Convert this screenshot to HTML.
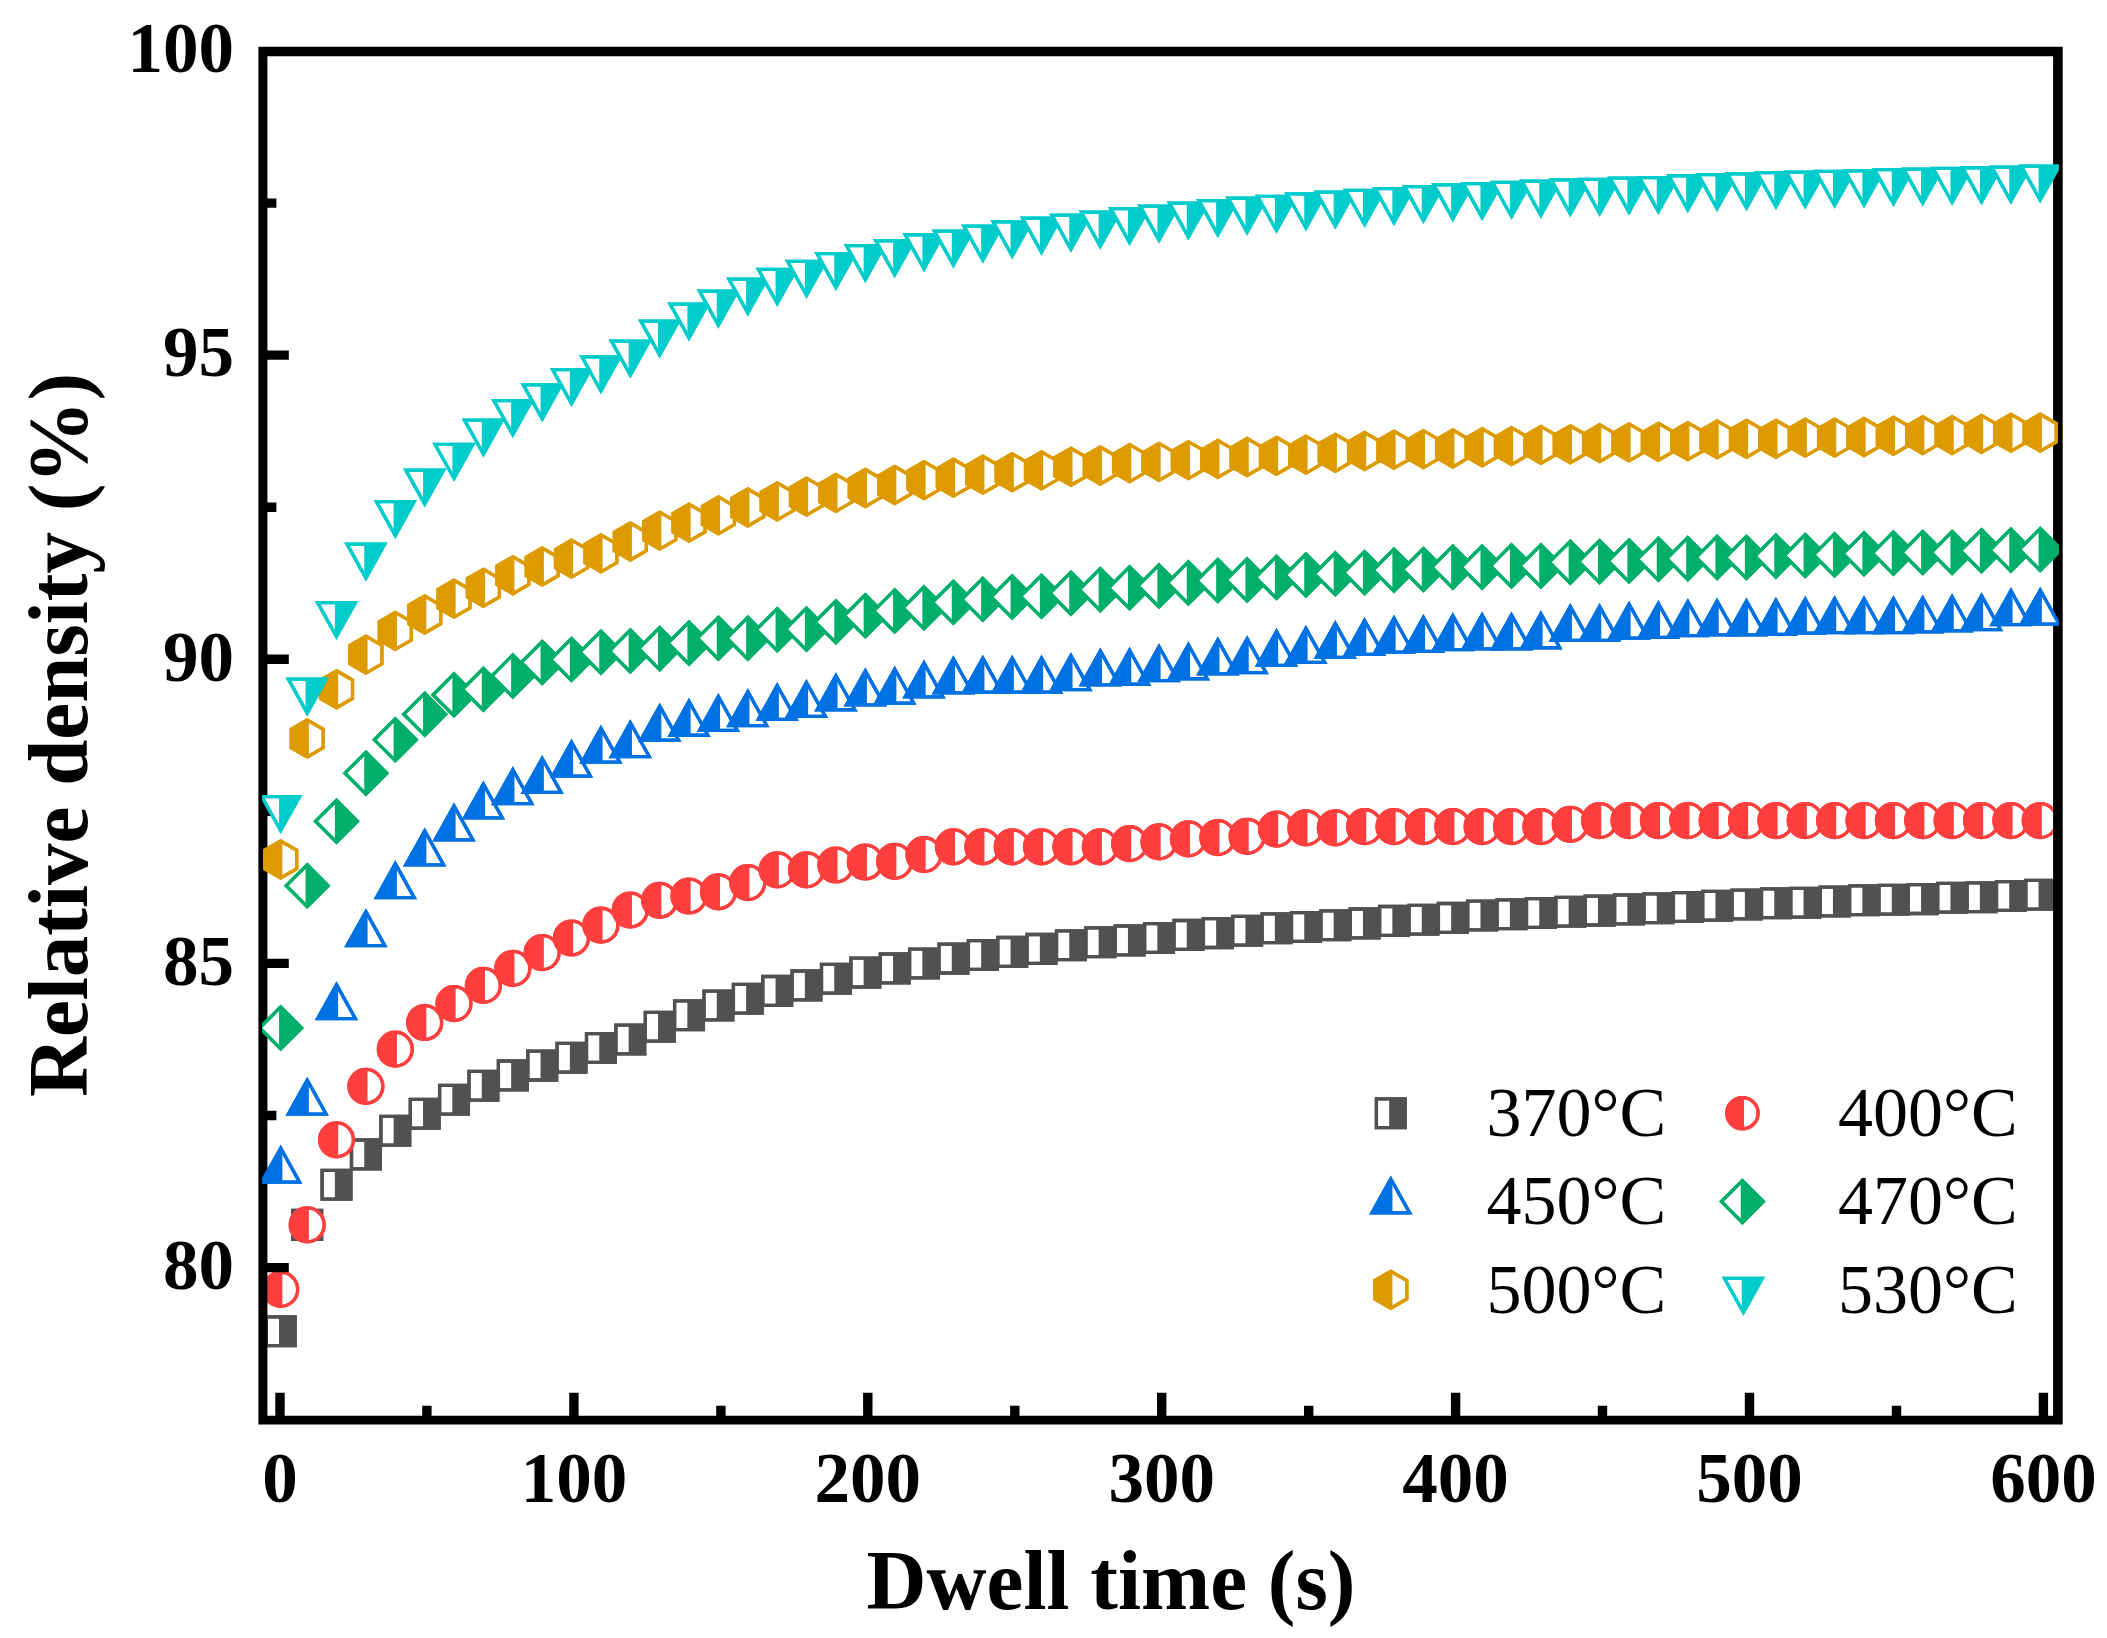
<!DOCTYPE html>
<html lang="en"><head><meta charset="utf-8"><title>Relative density vs dwell time</title>
<style>html,body{margin:0;padding:0;background:#fff}svg{display:block}text{font-family:"Liberation Serif","Times New Roman",serif;fill:#000}.b{font-weight:bold}</style></head><body>
<svg width="2107" height="1638" viewBox="0 0 2107 1638">
<rect width="2107" height="1638" fill="#fff"/>
<defs><g id="mg" stroke="#515151" stroke-width="3.3" stroke-linejoin="miter"><path d="M-14.4 -14.4H14.4V14.4H-14.4Z" fill="#fff"/><path d="M-1.65 -14.4H14.4V14.4H-1.65Z" fill="#515151" stroke="none"/><path d="M-14.4 -14.4H14.4V14.4H-14.4Z" fill="none"/></g><g id="mr" stroke="#FE3F3E" stroke-width="3.3" stroke-linejoin="miter"><path d="M-16.95 0A16.95 16.95 0 1 1 16.95 0A16.95 16.95 0 1 1 -16.95 0Z" fill="#fff"/><path d="M1.65 -16.87A16.95 16.95 0 1 0 1.65 16.87Z" fill="#FE3F3E" stroke="none"/><path d="M-16.95 0A16.95 16.95 0 1 1 16.95 0A16.95 16.95 0 1 1 -16.95 0Z" fill="none"/></g><g id="mrl" stroke="#FE3F3E" stroke-width="3.3" stroke-linejoin="miter"><path d="M-15.65 0A15.65 15.65 0 1 1 15.65 0A15.65 15.65 0 1 1 -15.65 0Z" fill="#fff"/><path d="M1.65 -15.56A15.65 15.65 0 1 0 1.65 15.56Z" fill="#FE3F3E" stroke="none"/><path d="M-15.65 0A15.65 15.65 0 1 1 15.65 0A15.65 15.65 0 1 1 -15.65 0Z" fill="none"/></g><g id="mb" stroke="#0071E2" stroke-width="3.3" stroke-linejoin="miter"><path d="M0 -22.67L18.9 11.33H-18.9Z" fill="#fff"/><path d="M0 -22.67L1.65 -19.70V11.33H-18.9Z" fill="#0071E2" stroke="none"/><path d="M0 -22.67L18.9 11.33H-18.9Z" fill="none"/></g><g id="mn" stroke="#00AF69" stroke-width="3.3" stroke-linejoin="miter"><path d="M0 -20.97L20.97 0L0 20.97L-20.97 0Z" fill="#fff"/><path d="M-1.65 -19.32L0 -20.97L20.97 0L0 20.97L-1.65 19.32Z" fill="#00AF69" stroke="none"/><path d="M0 -20.97L20.97 0L0 20.97L-20.97 0Z" fill="none"/></g><g id="mo" stroke="#DD9B00" stroke-width="3.3" stroke-linejoin="miter"><path d="M0 -18.5L16.02 -9.25V9.25L0 18.5L-16.02 9.25V-9.25Z" fill="#fff"/><path d="M1.65 -17.55L0 -18.5L-16.02 -9.25V9.25L0 18.5L1.65 17.55Z" fill="#DD9B00" stroke="none"/><path d="M0 -18.5L16.02 -9.25V9.25L0 18.5L-16.02 9.25V-9.25Z" fill="none"/></g><g id="mc" stroke="#00CCCC" stroke-width="3.3" stroke-linejoin="miter"><path d="M0 22.67L18.9 -11.33H-18.9Z" fill="#fff"/><path d="M0 22.67L-1.65 19.70V-11.33H18.9Z" fill="#00CCCC" stroke="none"/><path d="M0 22.67L18.9 -11.33H-18.9Z" fill="none"/></g>
<clipPath id="cp"><rect x="262" y="51.5" width="1796.8" height="1368.5"/></clipPath></defs>
<g clip-path="url(#cp)">
<g><use href="#mg" x="280.7" y="1331.3"/><use href="#mg" x="307.2" y="1224.9"/><use href="#mg" x="336.5" y="1184.8"/><use href="#mg" x="365.9" y="1154.4"/><use href="#mg" x="395.3" y="1130.7"/><use href="#mg" x="424.7" y="1113.7"/><use href="#mg" x="454.0" y="1099.7"/><use href="#mg" x="483.4" y="1085.7"/><use href="#mg" x="512.8" y="1075.4"/><use href="#mg" x="542.2" y="1065.6"/><use href="#mg" x="571.5" y="1057.7"/><use href="#mg" x="600.9" y="1048.0"/><use href="#mg" x="630.3" y="1039.5"/><use href="#mg" x="659.7" y="1026.7"/><use href="#mg" x="689.0" y="1015.2"/><use href="#mg" x="718.4" y="1005.5"/><use href="#mg" x="747.8" y="998.8"/><use href="#mg" x="777.2" y="990.9"/><use href="#mg" x="806.5" y="985.4"/><use href="#mg" x="835.9" y="978.7"/><use href="#mg" x="865.3" y="972.6"/><use href="#mg" x="894.7" y="968.4"/><use href="#mg" x="924.0" y="963.5"/><use href="#mg" x="953.4" y="958.6"/><use href="#mg" x="982.8" y="955.0"/><use href="#mg" x="1012.2" y="951.9"/><use href="#mg" x="1041.5" y="948.9"/><use href="#mg" x="1070.9" y="945.3"/><use href="#mg" x="1100.3" y="942.2"/><use href="#mg" x="1129.6" y="940.4"/><use href="#mg" x="1159.0" y="938.0"/><use href="#mg" x="1188.4" y="934.9"/><use href="#mg" x="1217.8" y="933.1"/><use href="#mg" x="1247.1" y="930.7"/><use href="#mg" x="1276.5" y="928.2"/><use href="#mg" x="1305.9" y="927.0"/><use href="#mg" x="1335.3" y="925.2"/><use href="#mg" x="1364.6" y="923.4"/><use href="#mg" x="1394.0" y="920.9"/><use href="#mg" x="1423.4" y="919.7"/><use href="#mg" x="1452.8" y="917.9"/><use href="#mg" x="1482.1" y="915.5"/><use href="#mg" x="1511.5" y="914.3"/><use href="#mg" x="1540.9" y="913.0"/><use href="#mg" x="1570.3" y="911.8"/><use href="#mg" x="1599.6" y="910.6"/><use href="#mg" x="1629.0" y="909.4"/><use href="#mg" x="1658.4" y="908.2"/><use href="#mg" x="1687.8" y="907.0"/><use href="#mg" x="1717.1" y="905.7"/><use href="#mg" x="1746.5" y="904.5"/><use href="#mg" x="1775.9" y="903.3"/><use href="#mg" x="1805.2" y="902.7"/><use href="#mg" x="1834.6" y="901.5"/><use href="#mg" x="1864.0" y="900.3"/><use href="#mg" x="1893.4" y="899.7"/><use href="#mg" x="1922.7" y="899.1"/><use href="#mg" x="1952.1" y="897.8"/><use href="#mg" x="1981.5" y="897.2"/><use href="#mg" x="2010.9" y="896.0"/><use href="#mg" x="2040.2" y="894.8"/></g>
<g><use href="#mr" x="280.7" y="1289.4"/><use href="#mr" x="307.2" y="1224.9"/><use href="#mr" x="336.5" y="1139.8"/><use href="#mr" x="365.9" y="1086.3"/><use href="#mr" x="395.3" y="1049.2"/><use href="#mr" x="424.7" y="1022.5"/><use href="#mr" x="454.0" y="1003.6"/><use href="#mr" x="483.4" y="985.4"/><use href="#mr" x="512.8" y="968.4"/><use href="#mr" x="542.2" y="952.6"/><use href="#mr" x="571.5" y="938.0"/><use href="#mr" x="600.9" y="925.2"/><use href="#mr" x="630.3" y="910.0"/><use href="#mr" x="659.7" y="900.3"/><use href="#mr" x="689.0" y="896.0"/><use href="#mr" x="718.4" y="891.8"/><use href="#mr" x="747.8" y="882.6"/><use href="#mr" x="777.2" y="869.9"/><use href="#mr" x="806.5" y="869.9"/><use href="#mr" x="835.9" y="865.0"/><use href="#mr" x="865.3" y="862.0"/><use href="#mr" x="894.7" y="861.4"/><use href="#mr" x="924.0" y="854.7"/><use href="#mr" x="953.4" y="846.8"/><use href="#mr" x="982.8" y="846.8"/><use href="#mr" x="1012.2" y="846.8"/><use href="#mr" x="1041.5" y="846.8"/><use href="#mr" x="1070.9" y="846.8"/><use href="#mr" x="1100.3" y="846.8"/><use href="#mr" x="1129.6" y="843.7"/><use href="#mr" x="1159.0" y="841.9"/><use href="#mr" x="1188.4" y="838.9"/><use href="#mr" x="1217.8" y="837.6"/><use href="#mr" x="1247.1" y="836.4"/><use href="#mr" x="1276.5" y="829.1"/><use href="#mr" x="1305.9" y="827.9"/><use href="#mr" x="1335.3" y="827.9"/><use href="#mr" x="1364.6" y="826.7"/><use href="#mr" x="1394.0" y="826.7"/><use href="#mr" x="1423.4" y="826.7"/><use href="#mr" x="1452.8" y="826.7"/><use href="#mr" x="1482.1" y="826.7"/><use href="#mr" x="1511.5" y="826.7"/><use href="#mr" x="1540.9" y="826.7"/><use href="#mr" x="1570.3" y="824.3"/><use href="#mr" x="1599.6" y="820.6"/><use href="#mr" x="1629.0" y="820.6"/><use href="#mr" x="1658.4" y="820.6"/><use href="#mr" x="1687.8" y="820.6"/><use href="#mr" x="1717.1" y="820.6"/><use href="#mr" x="1746.5" y="820.6"/><use href="#mr" x="1775.9" y="820.6"/><use href="#mr" x="1805.2" y="820.6"/><use href="#mr" x="1834.6" y="820.6"/><use href="#mr" x="1864.0" y="820.6"/><use href="#mr" x="1893.4" y="820.6"/><use href="#mr" x="1922.7" y="820.6"/><use href="#mr" x="1952.1" y="820.6"/><use href="#mr" x="1981.5" y="820.6"/><use href="#mr" x="2010.9" y="820.6"/><use href="#mr" x="2040.2" y="820.6"/></g>
</g>
<path d="M258.4 46.7H2062.7V1424.4H258.4ZM267.4 56.3V1415.7H2053.1V56.3Z" fill="#000" fill-rule="evenodd"/>
<path d="M280.0 1420.0V1392.8 M573.9 1420.0V1392.8 M867.8 1420.0V1392.8 M1161.7 1420.0V1392.8 M1455.6 1420.0V1392.8 M1749.5 1420.0V1392.8 M2043.4 1420.0V1392.8 M426.9 1420.0V1405.8 M720.9 1420.0V1405.8 M1014.8 1420.0V1405.8 M1308.7 1420.0V1405.8 M1602.5 1420.0V1405.8 M1896.5 1420.0V1405.8 M262.9 355.1H288.8 M262.9 659.3H288.8 M262.9 963.4H288.8 M262.9 1267.6H288.8 M262.9 203.1H276.4 M262.9 507.2H276.4 M262.9 811.4H276.4 M262.9 1115.5H276.4" stroke="#000" stroke-width="9.4" fill="none"/>
<g clip-path="url(#cp)">
<g><use href="#mb" x="280.7" y="1170.8"/><use href="#mb" x="307.2" y="1102.7"/><use href="#mb" x="336.5" y="1007.3"/><use href="#mb" x="365.9" y="934.3"/><use href="#mb" x="395.3" y="886.3"/><use href="#mb" x="424.7" y="853.5"/><use href="#mb" x="454.0" y="828.5"/><use href="#mb" x="483.4" y="806.6"/><use href="#mb" x="512.8" y="792.2"/><use href="#mb" x="542.2" y="781.1"/><use href="#mb" x="571.5" y="764.7"/><use href="#mb" x="600.9" y="750.8"/><use href="#mb" x="630.3" y="745.2"/><use href="#mb" x="659.7" y="728.8"/><use href="#mb" x="689.0" y="723.9"/><use href="#mb" x="718.4" y="719.1"/><use href="#mb" x="747.8" y="714.2"/><use href="#mb" x="777.2" y="708.1"/><use href="#mb" x="806.5" y="705.1"/><use href="#mb" x="835.9" y="698.4"/><use href="#mb" x="865.3" y="693.5"/><use href="#mb" x="894.7" y="691.7"/><use href="#mb" x="924.0" y="685.6"/><use href="#mb" x="953.4" y="681.4"/><use href="#mb" x="982.8" y="680.8"/><use href="#mb" x="1012.2" y="680.8"/><use href="#mb" x="1041.5" y="680.8"/><use href="#mb" x="1070.9" y="678.3"/><use href="#mb" x="1100.3" y="673.5"/><use href="#mb" x="1129.6" y="672.9"/><use href="#mb" x="1159.0" y="669.2"/><use href="#mb" x="1188.4" y="667.4"/><use href="#mb" x="1217.8" y="662.5"/><use href="#mb" x="1247.1" y="661.3"/><use href="#mb" x="1276.5" y="654.0"/><use href="#mb" x="1305.9" y="651.0"/><use href="#mb" x="1335.3" y="646.1"/><use href="#mb" x="1364.6" y="643.1"/><use href="#mb" x="1394.0" y="640.7"/><use href="#mb" x="1423.4" y="640.0"/><use href="#mb" x="1452.8" y="638.2"/><use href="#mb" x="1482.1" y="637.6"/><use href="#mb" x="1511.5" y="637.6"/><use href="#mb" x="1540.9" y="636.4"/><use href="#mb" x="1570.3" y="629.1"/><use href="#mb" x="1599.6" y="629.1"/><use href="#mb" x="1629.0" y="626.7"/><use href="#mb" x="1658.4" y="626.1"/><use href="#mb" x="1687.8" y="624.2"/><use href="#mb" x="1717.1" y="623.6"/><use href="#mb" x="1746.5" y="623.6"/><use href="#mb" x="1775.9" y="623.0"/><use href="#mb" x="1805.2" y="621.8"/><use href="#mb" x="1834.6" y="621.2"/><use href="#mb" x="1864.0" y="621.2"/><use href="#mb" x="1893.4" y="621.2"/><use href="#mb" x="1922.7" y="620.6"/><use href="#mb" x="1952.1" y="619.4"/><use href="#mb" x="1981.5" y="618.2"/><use href="#mb" x="2010.9" y="613.3"/><use href="#mb" x="2040.2" y="612.7"/></g>
<g><use href="#mn" x="280.7" y="1027.9"/><use href="#mn" x="307.2" y="885.7"/><use href="#mn" x="336.5" y="821.2"/><use href="#mn" x="365.9" y="773.2"/><use href="#mn" x="395.3" y="739.8"/><use href="#mn" x="424.7" y="714.2"/><use href="#mn" x="454.0" y="694.8"/><use href="#mn" x="483.4" y="689.3"/><use href="#mn" x="512.8" y="675.9"/><use href="#mn" x="542.2" y="662.5"/><use href="#mn" x="571.5" y="659.5"/><use href="#mn" x="600.9" y="652.2"/><use href="#mn" x="630.3" y="651.0"/><use href="#mn" x="659.7" y="648.6"/><use href="#mn" x="689.0" y="643.1"/><use href="#mn" x="718.4" y="638.2"/><use href="#mn" x="747.8" y="638.2"/><use href="#mn" x="777.2" y="629.7"/><use href="#mn" x="806.5" y="629.1"/><use href="#mn" x="835.9" y="621.8"/><use href="#mn" x="865.3" y="615.7"/><use href="#mn" x="894.7" y="610.9"/><use href="#mn" x="924.0" y="607.8"/><use href="#mn" x="953.4" y="602.3"/><use href="#mn" x="982.8" y="599.3"/><use href="#mn" x="1012.2" y="596.9"/><use href="#mn" x="1041.5" y="596.3"/><use href="#mn" x="1070.9" y="593.2"/><use href="#mn" x="1100.3" y="589.6"/><use href="#mn" x="1129.6" y="587.8"/><use href="#mn" x="1159.0" y="585.9"/><use href="#mn" x="1188.4" y="582.9"/><use href="#mn" x="1217.8" y="580.5"/><use href="#mn" x="1247.1" y="579.9"/><use href="#mn" x="1276.5" y="577.4"/><use href="#mn" x="1305.9" y="575.0"/><use href="#mn" x="1335.3" y="573.8"/><use href="#mn" x="1364.6" y="572.6"/><use href="#mn" x="1394.0" y="570.1"/><use href="#mn" x="1423.4" y="569.5"/><use href="#mn" x="1452.8" y="567.1"/><use href="#mn" x="1482.1" y="567.1"/><use href="#mn" x="1511.5" y="565.9"/><use href="#mn" x="1540.9" y="565.9"/><use href="#mn" x="1570.3" y="562.2"/><use href="#mn" x="1599.6" y="561.6"/><use href="#mn" x="1629.0" y="561.0"/><use href="#mn" x="1658.4" y="559.2"/><use href="#mn" x="1687.8" y="558.6"/><use href="#mn" x="1717.1" y="557.4"/><use href="#mn" x="1746.5" y="557.4"/><use href="#mn" x="1775.9" y="556.1"/><use href="#mn" x="1805.2" y="555.5"/><use href="#mn" x="1834.6" y="554.9"/><use href="#mn" x="1864.0" y="553.7"/><use href="#mn" x="1893.4" y="553.1"/><use href="#mn" x="1922.7" y="552.5"/><use href="#mn" x="1952.1" y="552.5"/><use href="#mn" x="1981.5" y="550.7"/><use href="#mn" x="2010.9" y="550.1"/><use href="#mn" x="2040.2" y="549.5"/></g>
<g><use href="#mo" x="280.7" y="859.5"/><use href="#mo" x="307.2" y="738.5"/><use href="#mo" x="336.5" y="689.3"/><use href="#mo" x="365.9" y="654.6"/><use href="#mo" x="395.3" y="630.9"/><use href="#mo" x="424.7" y="614.5"/><use href="#mo" x="454.0" y="598.7"/><use href="#mo" x="483.4" y="587.8"/><use href="#mo" x="512.8" y="575.3"/><use href="#mo" x="542.2" y="566.5"/><use href="#mo" x="571.5" y="558.6"/><use href="#mo" x="600.9" y="553.4"/><use href="#mo" x="630.3" y="541.5"/><use href="#mo" x="659.7" y="530.6"/><use href="#mo" x="689.0" y="522.7"/><use href="#mo" x="718.4" y="515.4"/><use href="#mo" x="747.8" y="507.5"/><use href="#mo" x="777.2" y="501.4"/><use href="#mo" x="806.5" y="496.6"/><use href="#mo" x="835.9" y="492.9"/><use href="#mo" x="865.3" y="488.0"/><use href="#mo" x="894.7" y="485.0"/><use href="#mo" x="924.0" y="480.1"/><use href="#mo" x="953.4" y="477.7"/><use href="#mo" x="982.8" y="474.7"/><use href="#mo" x="1012.2" y="472.2"/><use href="#mo" x="1041.5" y="470.4"/><use href="#mo" x="1070.9" y="466.8"/><use href="#mo" x="1100.3" y="465.5"/><use href="#mo" x="1129.6" y="463.1"/><use href="#mo" x="1159.0" y="461.9"/><use href="#mo" x="1188.4" y="460.1"/><use href="#mo" x="1217.8" y="458.9"/><use href="#mo" x="1247.1" y="457.0"/><use href="#mo" x="1276.5" y="455.8"/><use href="#mo" x="1305.9" y="454.6"/><use href="#mo" x="1335.3" y="452.8"/><use href="#mo" x="1364.6" y="451.0"/><use href="#mo" x="1394.0" y="449.7"/><use href="#mo" x="1423.4" y="449.1"/><use href="#mo" x="1452.8" y="448.5"/><use href="#mo" x="1482.1" y="447.3"/><use href="#mo" x="1511.5" y="446.1"/><use href="#mo" x="1540.9" y="444.9"/><use href="#mo" x="1570.3" y="444.3"/><use href="#mo" x="1599.6" y="443.1"/><use href="#mo" x="1629.0" y="442.4"/><use href="#mo" x="1658.4" y="441.8"/><use href="#mo" x="1687.8" y="441.2"/><use href="#mo" x="1717.1" y="439.4"/><use href="#mo" x="1746.5" y="438.8"/><use href="#mo" x="1775.9" y="438.8"/><use href="#mo" x="1805.2" y="437.6"/><use href="#mo" x="1834.6" y="437.6"/><use href="#mo" x="1864.0" y="437.0"/><use href="#mo" x="1893.4" y="435.8"/><use href="#mo" x="1922.7" y="435.1"/><use href="#mo" x="1952.1" y="435.1"/><use href="#mo" x="1981.5" y="433.9"/><use href="#mo" x="2010.9" y="432.7"/><use href="#mo" x="2040.2" y="432.7"/></g>
<g><use href="#mc" x="280.7" y="807.9"/><use href="#mc" x="307.2" y="690.5"/><use href="#mc" x="336.5" y="613.9"/><use href="#mc" x="365.9" y="555.5"/><use href="#mc" x="395.3" y="513.0"/><use href="#mc" x="424.7" y="481.4"/><use href="#mc" x="454.0" y="455.8"/><use href="#mc" x="483.4" y="431.5"/><use href="#mc" x="512.8" y="412.0"/><use href="#mc" x="542.2" y="396.2"/><use href="#mc" x="571.5" y="381.0"/><use href="#mc" x="600.9" y="368.3"/><use href="#mc" x="630.3" y="352.5"/><use href="#mc" x="659.7" y="332.4"/><use href="#mc" x="689.0" y="315.4"/><use href="#mc" x="718.4" y="302.6"/><use href="#mc" x="747.8" y="290.4"/><use href="#mc" x="777.2" y="280.7"/><use href="#mc" x="806.5" y="272.8"/><use href="#mc" x="835.9" y="264.9"/><use href="#mc" x="865.3" y="257.0"/><use href="#mc" x="894.7" y="252.1"/><use href="#mc" x="924.0" y="246.1"/><use href="#mc" x="953.4" y="242.4"/><use href="#mc" x="982.8" y="237.5"/><use href="#mc" x="1012.2" y="233.3"/><use href="#mc" x="1041.5" y="229.6"/><use href="#mc" x="1070.9" y="226.6"/><use href="#mc" x="1100.3" y="223.6"/><use href="#mc" x="1129.6" y="219.9"/><use href="#mc" x="1159.0" y="217.5"/><use href="#mc" x="1188.4" y="214.4"/><use href="#mc" x="1217.8" y="212.0"/><use href="#mc" x="1247.1" y="209.6"/><use href="#mc" x="1276.5" y="207.8"/><use href="#mc" x="1305.9" y="205.3"/><use href="#mc" x="1335.3" y="203.5"/><use href="#mc" x="1364.6" y="201.7"/><use href="#mc" x="1394.0" y="199.9"/><use href="#mc" x="1423.4" y="198.0"/><use href="#mc" x="1452.8" y="196.2"/><use href="#mc" x="1482.1" y="195.0"/><use href="#mc" x="1511.5" y="193.8"/><use href="#mc" x="1540.9" y="192.6"/><use href="#mc" x="1570.3" y="191.3"/><use href="#mc" x="1599.6" y="190.7"/><use href="#mc" x="1629.0" y="189.5"/><use href="#mc" x="1658.4" y="188.9"/><use href="#mc" x="1687.8" y="187.1"/><use href="#mc" x="1717.1" y="185.9"/><use href="#mc" x="1746.5" y="185.3"/><use href="#mc" x="1775.9" y="184.0"/><use href="#mc" x="1805.2" y="183.4"/><use href="#mc" x="1834.6" y="182.8"/><use href="#mc" x="1864.0" y="182.2"/><use href="#mc" x="1893.4" y="181.0"/><use href="#mc" x="1922.7" y="180.4"/><use href="#mc" x="1952.1" y="179.8"/><use href="#mc" x="1981.5" y="179.2"/><use href="#mc" x="2010.9" y="178.6"/><use href="#mc" x="2040.2" y="177.4"/></g>
</g>
<text class="b" x="280.0" y="1502.2" font-size="71" text-anchor="middle">0</text>
<text class="b" x="573.9" y="1502.2" font-size="71" text-anchor="middle">100</text>
<text class="b" x="867.8" y="1502.2" font-size="71" text-anchor="middle">200</text>
<text class="b" x="1161.7" y="1502.2" font-size="71" text-anchor="middle">300</text>
<text class="b" x="1455.6" y="1502.2" font-size="71" text-anchor="middle">400</text>
<text class="b" x="1749.5" y="1502.2" font-size="71" text-anchor="middle">500</text>
<text class="b" x="2043.4" y="1502.2" font-size="71" text-anchor="middle">600</text>
<text class="b" x="234" y="72.2" font-size="71" text-anchor="end">100</text>
<text class="b" x="234" y="376.3" font-size="71" text-anchor="end">95</text>
<text class="b" x="234" y="680.5" font-size="71" text-anchor="end">90</text>
<text class="b" x="234" y="984.6" font-size="71" text-anchor="end">85</text>
<text class="b" x="234" y="1288.8" font-size="71" text-anchor="end">80</text>
<text class="b" transform="translate(1111 1608.5) scale(0.977 1)" font-size="85" text-anchor="middle">Dwell time (s)</text>
<text class="b" transform="translate(87.2 735) rotate(-90) scale(0.977 1)" font-size="85" text-anchor="middle">Relative density (%)</text>
<use href="#mg" x="1390.8" y="1113.2"/>
<text x="1486.5" y="1136.0" font-size="70">370°C</text>
<use href="#mrl" x="1742.4" y="1113.2"/>
<text x="1838" y="1136.0" font-size="70">400°C</text>
<use href="#mb" x="1390.8" y="1201.6"/>
<text x="1486.5" y="1224.4" font-size="70">450°C</text>
<use href="#mn" x="1742.4" y="1201.6"/>
<text x="1838" y="1224.4" font-size="70">470°C</text>
<use href="#mo" x="1390.8" y="1289.8"/>
<text x="1486.5" y="1312.6" font-size="70">500°C</text>
<use href="#mc" x="1743.4" y="1289.8"/>
<text x="1838" y="1312.6" font-size="70">530°C</text>
</svg></body></html>
